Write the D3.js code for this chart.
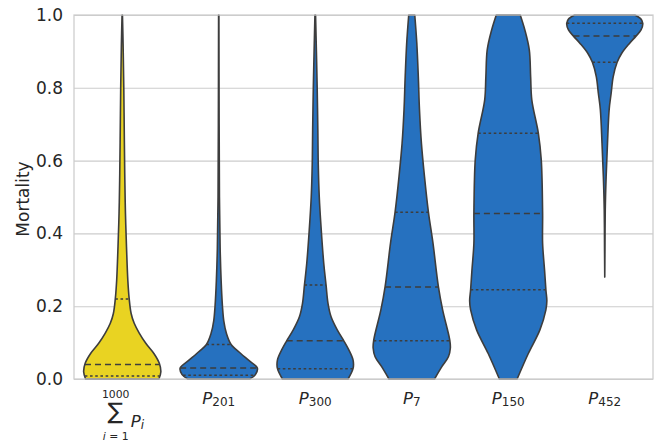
<!DOCTYPE html>
<html>
<head>
<meta charset="utf-8">
<script src="https://cdn.jsdelivr.net/npm/d3@7"></script>
<style>
  body { margin: 0; background: #fff; }
  text { font-family: "DejaVu Sans", sans-serif; fill: #262626; }
</style>
</head>
<body>
<svg id="chart" width="659" height="444"></svg>
<script>
// categories and their colours
var categories = ["sum", "P201", "P300", "P7", "P150", "P452"];
var subscripts = [null, "201", "300", "7", "150", "452"];
var fills = ["#E9D322", "#2671BF", "#2671BF", "#2671BF", "#2671BF", "#2671BF"];
var yTicks = [0, 0.2, 0.4, 0.6, 0.8, 1.0];

// violin outlines: [mortality, relative half-width]
var densSum = [[0, 0.95], [0.02, 1.0], [0.043, 0.96], [0.07, 0.82], [0.098, 0.61], [0.126, 0.44],
  [0.153, 0.31], [0.18, 0.23], [0.22, 0.18], [0.27, 0.145], [0.363, 0.11], [0.455, 0.083],
  [0.547, 0.067], [0.65, 0.055], [0.8, 0.04], [0.92, 0.022], [1.0, 0.005]];
var densP201 = [[0, 0.80], [0.012, 0.95], [0.03, 1.0], [0.051, 0.78], [0.07, 0.57], [0.095, 0.32],
  [0.125, 0.2], [0.16, 0.13], [0.2, 0.096], [0.27, 0.062], [0.36, 0.036], [0.5, 0.018],
  [0.7, 0.01], [1.0, 0.004]];
var densP300 = [[0, 0.85], [0.029, 0.98], [0.052, 0.98], [0.08, 0.87], [0.105, 0.74], [0.135, 0.57],
  [0.171, 0.41], [0.208, 0.33], [0.258, 0.28], [0.318, 0.22], [0.41, 0.155], [0.5, 0.104],
  [0.59, 0.078], [0.685, 0.067], [0.8, 0.05], [0.9, 0.03], [1.0, 0.008]];
var densP7 = [[0, 0.59], [0.034, 0.78], [0.061, 0.95], [0.085, 1.0], [0.107, 0.985], [0.19, 0.80],
  [0.254, 0.69], [0.373, 0.55], [0.46, 0.43], [0.556, 0.33], [0.648, 0.25], [0.74, 0.2],
  [0.83, 0.17], [0.924, 0.13], [1.0, 0.078]];
var densP150 = [[0, 0.23], [0.07, 0.52], [0.135, 0.82], [0.19, 0.975], [0.215, 1.0], [0.245, 0.975],
  [0.3, 0.94], [0.373, 0.89], [0.455, 0.89], [0.602, 0.855], [0.675, 0.78], [0.767, 0.61],
  [0.83, 0.58], [0.904, 0.545], [0.959, 0.43], [1.0, 0.31]];
var densP452 = [[0.28, 0], [0.35, 0.005], [0.464, 0.013], [0.556, 0.036], [0.648, 0.071], [0.74, 0.114],
  [0.785, 0.166], [0.83, 0.218], [0.87, 0.32], [0.895, 0.44], [0.922, 0.64], [0.942, 0.81],
  [0.959, 0.94], [0.977, 0.985], [0.99, 0.93], [1.0, 0.78]];
var densities = [densSum, densP201, densP300, densP7, densP150, densP452];

// quartiles [Q1, median, Q3]
var quartiles = [[0.008, 0.04, 0.22], [0.01, 0.03, 0.095], [0.028, 0.105, 0.258],
  [0.105, 0.253, 0.458], [0.245, 0.455, 0.675], [0.87, 0.942, 0.977]];

var svg = d3.select("#chart");
var plot = {left: 74, right: 653, top: 15, bottom: 379};

var x = d3.scaleBand().domain(categories).range([plot.left, plot.right]);
var y = d3.scaleLinear().domain([0, 1]).range([plot.bottom, plot.top]);
var w = d3.scaleLinear().domain([0, 1]).range([0, x.bandwidth() * 0.4]);

// grid + y tick labels
var yAxis = svg.append("g")
  .attr("transform", "translate(" + plot.left + ",0)")
  .call(d3.axisLeft(y).tickValues(yTicks).tickFormat(d3.format(".1f"))
    .tickSize(-(plot.right - plot.left)).tickPadding(11));
yAxis.select(".domain").remove();
yAxis.selectAll("line").attr("stroke", "#cccccc").attr("stroke-width", 1.1);
yAxis.selectAll("text").style("font-size", "17px").attr("fill", "#262626")
  .style("font-family", "DejaVu Sans");

svg.append("text")
  .attr("transform", "translate(29," + (plot.top + plot.bottom + 4) / 2 + ") rotate(-90)")
  .attr("text-anchor", "middle")
  .style("font-size", "17px")
  .text("Mortality");

// violins
categories.forEach(function(cat, i) {
  var cx = x(cat) + x.bandwidth() / 2;
  var dens = densities[i];
  var area = d3.area()
    .y(function(d) { return y(d[0]); })
    .x0(function(d) { return cx - w(d[1]); })
    .x1(function(d) { return cx + w(d[1]); })
    .curve(d3.curveCatmullRom.alpha(0.5));

  svg.append("path")
    .datum(dens)
    .attr("d", area)
    .attr("fill", fills[i])
    .attr("stroke", "#3d3d3d")
    .attr("stroke-width", 1.6)
    .attr("stroke-linejoin", "round");

  // half-width at a given value
  var hw = d3.scaleLinear()
    .domain(dens.map(function(d) { return d[0]; }))
    .range(dens.map(function(d) { return w(d[1]); }));

  quartiles[i].forEach(function(q, j) {
    svg.append("line")
      .attr("x1", cx - hw(q)).attr("x2", cx + hw(q))
      .attr("y1", y(q)).attr("y2", y(q))
      .attr("stroke", "#3d3d3d")
      .attr("stroke-width", 1.5)
      .attr("stroke-dasharray", j === 1 ? "6,4" : "2.6,2.6");
  });
});

// frame
svg.append("rect")
  .attr("x", plot.left).attr("y", plot.top)
  .attr("width", plot.right - plot.left).attr("height", plot.bottom - plot.top)
  .attr("fill", "none").attr("stroke", "#cccccc").attr("stroke-width", 1.25);

// x labels
categories.forEach(function(cat, i) {
  var cx = x(cat) + x.bandwidth() / 2;
  if (subscripts[i]) {
    var t = svg.append("text")
      .attr("x", cx).attr("y", 403.5)
      .attr("text-anchor", "middle");
    t.append("tspan").style("font-size", "16.5px").style("font-style", "italic").text("P");
    t.append("tspan").style("font-size", "12px").attr("dy", 2.5).text(subscripts[i]);
  } else {
    svg.append("text").attr("x", cx - 6.5).attr("y", 398)
      .attr("text-anchor", "middle").style("font-size", "10.8px").text("1000");
    svg.append("text").attr("x", cx - 7).attr("y", 418.5)
      .attr("text-anchor", "middle").style("font-size", "23px").text("∑");
    var lo = svg.append("text").attr("x", cx - 6.5).attr("y", 440)
      .attr("text-anchor", "middle").style("font-size", "10.8px");
    lo.append("tspan").style("font-style", "italic").text("i");
    lo.append("tspan").text(" = 1");
    var p = svg.append("text").attr("x", cx + 8.5).attr("y", 426.5);
    p.append("tspan").style("font-size", "16.5px").style("font-style", "italic").text("P");
    p.append("tspan").style("font-size", "12px").style("font-style", "italic").attr("dy", 2.5).text("i");
  }
});
</script>
</body>
</html>
